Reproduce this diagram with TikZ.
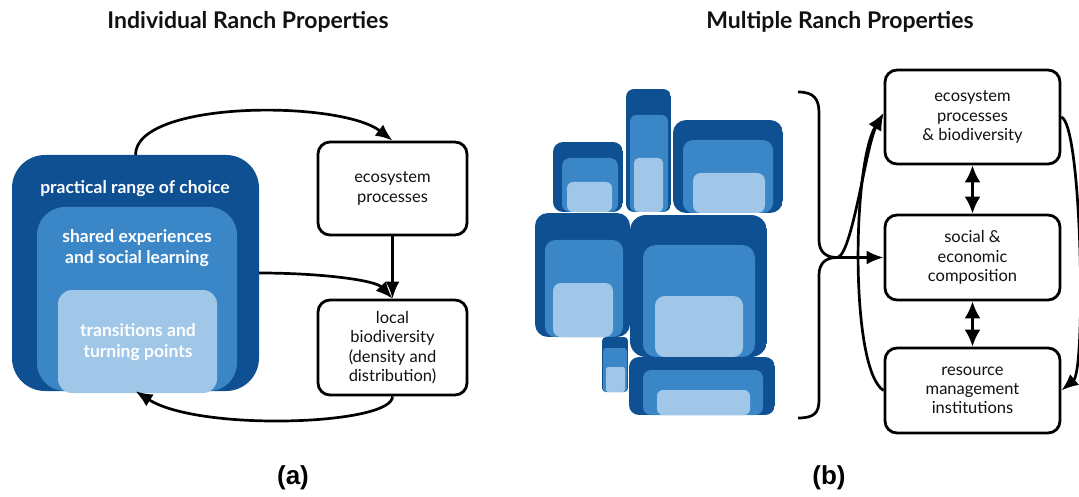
\documentclass[tikz,border=0pt]{standalone}
\usepackage{fontspec}
\setmainfont{Lato}
\newfontfamily\labfont{Liberation Sans}
\usetikzlibrary{arrows.meta}
\definecolor{dkblue}{HTML}{0E5092}
\definecolor{mdblue}{HTML}{3B86C6}
\definecolor{ltblue}{HTML}{A0C6E8}
\definecolor{txt}{HTML}{111111}
\begin{document}
\begin{tikzpicture}[x=1pt,y=-1pt,
  box/.style={draw=black, line width=2.8pt, rounded corners=12pt, fill=white, inner sep=0pt, align=center, font=\fontsize{16.5}{19.3}\selectfont, text=txt},
  arr/.style={line width=2.7pt, -{Latex[length=17pt,width=14pt]}},
  dbl/.style={line width=2.7pt, {Latex[length=17pt,width=16pt]}-{Latex[length=17pt,width=16pt]}},
  ttl/.style={font=\fontsize{23}{26}\selectfont\bfseries, text=txt},
  wlab/.style={text=white, font=\fontsize{17.5}{20.5}\selectfont\bfseries, align=center},
  sublab/.style={font=\labfont\fontsize{26}{30}\selectfont\bfseries}
]
\useasboundingbox (0,0) rectangle (1079,497);

% titles
\node[ttl] (t1) at (248,22) {Individual Ranch Properties};
\node[ttl] (t2) at (840,22) {Multiple Ranch Properties};
\node[sublab] (la) at (293,478) {(a)};
\node[sublab] (lb) at (829,478) {(b)};

% ---------- (a) ----------
\node[fill=dkblue, rounded corners=33pt, minimum width=247pt, minimum height=236pt, inner sep=0pt] (choice) at (135.5,273) {};
\fill[mdblue, rounded corners=28pt] (37,207) rectangle (237,391);
\fill[ltblue, rounded corners=14pt] (58,290) rectangle (217,393);
\node[wlab] (prc) at (135,189) {practical range of choice};
\node[wlab] (shr) at (137,248) {shared experiences\\and social learning};
\node[wlab] (trn) at (138,342) {transitions and\\turning points};

\node[box, minimum width=149pt, minimum height=93pt] (eco) at (392.5,188.5) {ecosystem\\processes};
\node[box, minimum width=149pt, minimum height=95pt] (bio) at (392.5,347.5) {local\\biodiversity\\(density and\\distribution)};

\draw[arr] (choice.north) .. controls (136,100) and (340,100) .. (eco.north);
\draw[arr] (choice.east) .. controls (320,273) and (375,280) .. (bio.north);
\draw[arr] (eco) -- (bio);
\draw[arr] (bio.south) .. controls (393,425) and (200,432) .. (choice.south);

% ---------- (b) ----------
\foreach \xa/\ya/\xb/\yb/\ro/\mx/\my/\mxb/\lx/\ly/\lxb in {
  553/142/623/212/10/562/158/618/567/182/612,
  626/89/671/212/8/630/115/668/634/158/663,
  673/120/783/213/13/683/140/773/693/173/765,
  535/213/630/337/13/545/240/623/553/283/613,
  630/215/767/357/16/643/245/755/655/296/743,
  602/337/628/392/4/603/348/627/606/367/625,
  629/357/775/415/10/643/370/763/657/390/750}{
  \begin{scope}
    \clip[rounded corners=\ro pt] (\xa,\ya) rectangle (\xb,\yb);
    \fill[dkblue] (\xa,\ya) rectangle (\xb,\yb);
    \fill[mdblue, rounded corners=\ro*0.8pt] (\mx,\my) rectangle (\mxb,\yb);
    \fill[ltblue, rounded corners=\ro*0.6pt] (\lx,\ly) rectangle (\lxb,\yb);
  \end{scope}
}

\coordinate (tip) at (837,257.5);
\draw[line width=2.7pt] (798,92) .. controls (814,92) and (819,99) .. (819,113) -- (819,240) .. controls (819,252) and (826,257.5) .. (tip) .. controls (826,257.5) and (819,263) .. (819,275) -- (819,400) .. controls (819,413) and (814,418) .. (798,418);

\node[box, minimum width=175pt, minimum height=94pt] (ecob) at (972.5,117) {ecosystem\\processes\\\&\ biodiversity};
\node[box, minimum width=175pt, minimum height=85pt] (soc) at (972.5,257.5) {social \&\\economic\\composition};
\node[box, minimum width=175pt, minimum height=85pt] (res) at (972.5,390.5) {resource\\management\\institutions};

\draw[arr] (tip) -- (soc.west);
\draw[arr] (tip) .. controls (852,257) and (866,145) .. ([yshift=4pt]ecob.west);
\draw[arr] (res.west) .. controls (850,370) and (852,165) .. ([yshift=4pt]ecob.west);
\draw[arr] (ecob.east) .. controls (1082,125) and (1086,370) .. (res.east);
\draw[dbl] (ecob) -- (soc);
\draw[dbl] (soc) -- (res);
\end{tikzpicture}
\end{document}
